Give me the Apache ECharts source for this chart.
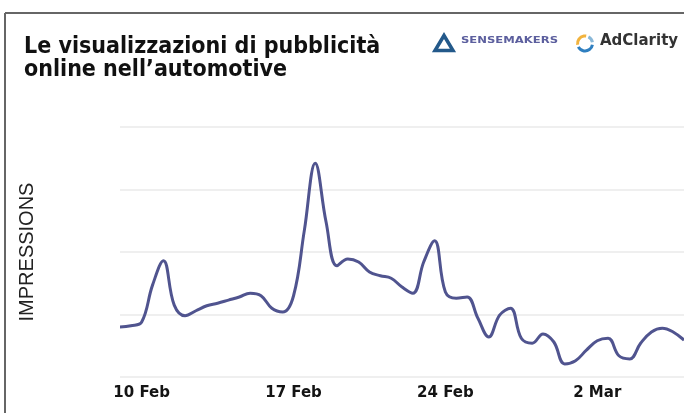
<!DOCTYPE html>
<html>
<head>
<meta charset="utf-8">
<script src="https://cdn.jsdelivr.net/npm/echarts@6/dist/echarts.min.js"></script>
<style>
  html, body { margin: 0; padding: 0; background: #ffffff; }
  #chart { width: 684px; height: 413px; }
</style>
</head>
<body>
<div id="chart"></div>
<script>
// Twice-daily readings, starting 9 Feb 2020 at 00:00
const startDate = [2020, 1, 9];
const stepsPerDay = 2;

// Ad impressions (index units), one value per 12-hour step
const impressions = [
  0.80, 0.82, 0.88, 1.47, 1.86, 1.15, 0.98, 1.06, 1.14, 1.18,
  1.23, 1.28, 1.34, 1.30, 1.10, 1.04, 1.30, 2.35, 3.42, 2.48,
  1.78, 1.89, 1.84, 1.68, 1.62, 1.58, 1.44, 1.34, 1.84, 2.18,
  1.36, 1.26, 1.28, 0.94, 0.64, 0.99, 1.10, 0.62, 0.54, 0.69,
  0.56, 0.21, 0.26, 0.43, 0.58, 0.62, 0.34, 0.29, 0.54, 0.72,
  0.78, 0.72, 0.59
];

// Week markers shown on the time axis
const tickLabels = ['10 Feb', '17 Feb', '24 Feb', '2 Mar'];

const monthNames = ['Jan', 'Feb', 'Mar', 'Apr'];
const categories = impressions.map(function (_, i) {
  const d = new Date(startDate[0], startDate[1], startDate[2], (i % stepsPerDay) * 12);
  d.setDate(d.getDate() + Math.floor(i / stepsPerDay));
  const day = d.getDate() + ' ' + monthNames[d.getMonth()];
  return d.getHours() === 0 ? day : day + ' 12:00';
});

const chart = echarts.init(document.getElementById('chart'));

chart.setOption({
  backgroundColor: '#ffffff',
  animation: false,
  title: {
    text: 'Le visualizzazioni di pubblicità\nonline nell\u2019automotive',
    left: 19,
    top: 31,
    textStyle: {
      fontFamily: '"Liberation Sans Narrow", "DejaVu Sans Condensed", sans-serif',
      fontWeight: 'bold',
      fontSize: 23,
      lineHeight: 23,
      color: '#111111'
    }
  },
  grid: { left: 120, right: 0, top: 127, bottom: 36 },
  xAxis: {
    type: 'category',
    data: categories,
    boundaryGap: false,
    axisLine: { show: false },
    axisTick: { show: false },
    axisLabel: {
      interval: function (index, value) { return tickLabels.indexOf(value) !== -1; },
      margin: 9,
      fontFamily: '"DejaVu Sans", sans-serif',
      fontWeight: 'bold',
      fontSize: 15,
      color: '#141414'
    },
    splitLine: { show: false }
  },
  yAxis: {
    type: 'value',
    min: 0,
    max: 4,
    interval: 1,
    name: 'IMPRESSIONS',
    nameLocation: 'middle',
    nameRotate: 90,
    nameGap: 83,
    nameTextStyle: {
      fontFamily: '"Liberation Sans", Arial, sans-serif',
      fontSize: 20,
      color: '#222222'
    },
    axisLine: { show: false },
    axisTick: { show: false },
    axisLabel: { show: false },
    splitLine: { lineStyle: { color: '#efefef', width: 2 } }
  },
  series: [{
    type: 'line',
    data: impressions,
    smooth: 0.4,
    symbol: 'none',
    lineStyle: { color: '#50548f', width: 3 }
  }],
  graphic: [
    // frame: left and top rule
    { type: 'line', shape: { x1: 5, y1: 13, x2: 5, y2: 413 }, style: { stroke: '#666666', lineWidth: 2 } },
    { type: 'line', shape: { x1: 5, y1: 13, x2: 684, y2: 13 }, style: { stroke: '#666666', lineWidth: 2 } },
    // Sensemakers mark
    { type: 'polygon', shape: { points: [[444, 35.5], [435, 50.5], [453, 50.5]] },
      style: { fill: 'none', stroke: '#23598a', lineWidth: 3.5 } },
    { type: 'text', x: 461, y: 41, scaleX: 1.45,
      style: { text: 'SENSEMAKERS', fontFamily: '"DejaVu Sans", sans-serif', fontWeight: 'bold',
               fontSize: 8, fill: '#5c5f9e', verticalAlign: 'middle' } },
    // AdClarity mark
    { type: 'arc', shape: { cx: 585, cy: 43.5, r: 7.5, startAngle: Math.PI * 0.95, endAngle: Math.PI * 1.55 },
      style: { stroke: '#f2b33d', lineWidth: 3, fill: 'none' } },
    { type: 'arc', shape: { cx: 585, cy: 43.5, r: 7.5, startAngle: Math.PI * 1.65, endAngle: Math.PI * 1.95 },
      style: { stroke: '#8ab8d8', lineWidth: 3, fill: 'none' } },
    { type: 'arc', shape: { cx: 585, cy: 43.5, r: 7.5, startAngle: Math.PI * 0.05, endAngle: Math.PI * 0.85 },
      style: { stroke: '#2f7fc0', lineWidth: 3, fill: 'none' } },
    { type: 'text', x: 600, y: 41,
      style: { text: 'AdClarity', fontFamily: '"DejaVu Sans", sans-serif', fontWeight: 'bold',
               fontSize: 15, fill: '#333333', verticalAlign: 'middle' } }
  ]
});
</script>
</body>
</html>
